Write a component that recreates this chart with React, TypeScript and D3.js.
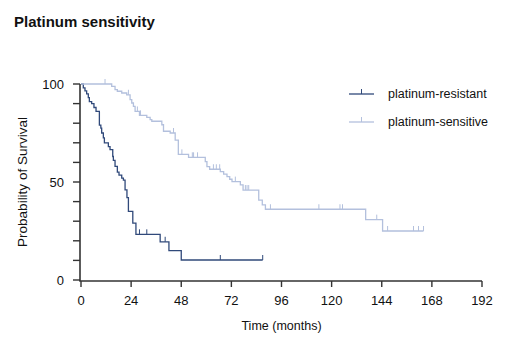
import React from 'react';
import * as d3 from 'd3';

// Kaplan-Meier steps (months, % surviving after each drop)
const resistantTimes = [1.1, 1.9, 2.7, 3.5, 4.0, 5.1, 6.2, 7.2, 8.8, 9.5, 9.9, 10.7, 11.2, 13.1, 13.9, 15.2, 15.5, 16.3, 17.4, 18.2, 19.5, 20.3, 21.1, 22.0, 22.7, 24.8, 26.3, 37.9, 42.1, 48];
const resistantSurv = [98, 96.5, 95, 93, 91, 90, 88, 86, 79, 77.5, 75, 72.5, 70, 68, 66.5, 63, 61, 58, 55, 53.5, 52, 51, 46, 42, 35, 29, 23.3, 19.5, 15, 10.2];
const resistantCensor = [28, 31.5, 40.3, 66.7, 87];
const resistantEnd = 87;

const sensitiveTimes = [14.7, 16.3, 17.4, 19.5, 21.9, 23.5, 24.3, 25.1, 25.9, 28, 31.5, 33.1, 33.9, 38.7, 39.5, 42.7, 45.1, 46.6, 51.5, 59.5, 60.3, 61.6, 66.7, 68.3, 69.9, 71.2, 72.3, 76.3, 77.6, 85.1, 86.8, 88.3, 136.3, 144.4];
const sensitiveSurv = [98.8, 97.1, 96.3, 95.4, 94.5, 92, 90.3, 88.6, 86, 84, 83, 81.8, 81, 79.2, 75.9, 75, 71.4, 64.1, 62.6, 60.4, 57.8, 56.5, 55.3, 54, 52.7, 51.4, 50.2, 48.5, 45.9, 40.8, 38.3, 36.1, 30.8, 25];
const sensitiveCensor = [11.5, 22.7, 27, 28.5, 44.3, 48.3, 53.3, 53.9, 55.8, 63.4, 64.8, 66.4, 73.9, 78.7, 79.5, 80.3, 90.7, 113.9, 124, 125.2, 141.6, 146.8, 159.2, 161.6, 164];
const sensitiveEnd = 164;

const xTicks = [0, 24, 48, 72, 96, 120, 144, 168, 192];
const yTicks = [0, 10, 20, 30, 40, 50, 60, 70, 80, 90, 100];
const yLabels = [0, 50, 100];

const groups = [
  { name: 'platinum-resistant', times: resistantTimes, surv: resistantSurv, censor: resistantCensor, end: resistantEnd, color: '#30497a' },
  { name: 'platinum-sensitive', times: sensitiveTimes, surv: sensitiveSurv, censor: sensitiveCensor, end: sensitiveEnd, color: '#b3c0dd' },
];

const W = 519;
const H = 340;
const font = 'Liberation Sans, Arial, sans-serif';

const App = () => {
  const x = d3.scaleLinear().domain([0, 192]).range([81, 482]);
  const y = d3.scaleLinear().domain([0, 100]).range([280, 84]);
  const axisColor = '#333';

  const line = d3.line<[number, number]>()
    .x(d => x(d[0]))
    .y(d => y(d[1]))
    .curve(d3.curveStepAfter);

  // survival level at a censor time
  const levelAt = (times: number[], surv: number[], t: number) => {
    let s = 100;
    times.forEach((tt, i) => { if (tt <= t) s = surv[i]; });
    return s;
  };

  return (
    <svg width={W} height={H} style={{ position: 'absolute', left: 0, top: 0 }} fontFamily={font}>
      <text x={14} y={27} fontSize={15} fontWeight="bold" fill="#111">Platinum sensitivity</text>

      {/* curves */}
      {groups.map(g => {
        const pts: [number, number][] = [[0, 100]];
        g.times.forEach((t, i) => pts.push([t, g.surv[i]]));
        pts.push([g.end, g.surv[g.surv.length - 1]]);
        return (
          <g key={g.name}>
            <path d={line(pts) || ''} fill="none" stroke={g.color} strokeWidth={1.3} />
            {g.censor.map((t, i) => {
              const cy = y(levelAt(g.times, g.surv, t));
              return <line key={i} x1={x(t)} x2={x(t)} y1={cy} y2={cy - 5} stroke={g.color} strokeWidth={1} />;
            })}
          </g>
        );
      })}

      {/* y axis */}
      <line x1={x(0) - 1} x2={x(0) - 1} y1={y(0) + 1} y2={y(100)} stroke={axisColor} strokeWidth={1.6} />
      {yTicks.map(t => (
        <line key={t} x1={x(0) - 8} x2={x(0) - 1} y1={y(t)} y2={y(t)} stroke={axisColor} strokeWidth={1.4} />
      ))}
      {yLabels.map(t => (
        <text key={t} x={x(0) - 17} y={y(t)} dy="0.35em" textAnchor="end" fontSize={13} fill="#111">{t}</text>
      ))}

      {/* x axis */}
      <line x1={x(0) - 1.8} x2={x(192)} y1={y(0) + 1} y2={y(0) + 1} stroke={axisColor} strokeWidth={1.6} />
      {xTicks.map(t => (
        <g key={t}>
          <line x1={x(t)} x2={x(t)} y1={y(0) + 1} y2={y(0) + 7} stroke={axisColor} strokeWidth={1.4} />
          <text x={x(t)} y={y(0) + 25} textAnchor="middle" fontSize={13} fill="#111">{t}</text>
        </g>
      ))}

      <text x={x(96)} y={330} textAnchor="middle" fontSize={12.5} fill="#111">Time (months)</text>
      <text transform={`translate(27, ${y(50)}) rotate(-90)`} textAnchor="middle" fontSize={13.5} fill="#111">Probability of Survival</text>

      {/* legend */}
      {groups.map((g, i) => {
        const ly = 94 + i * 28;
        return (
          <g key={g.name}>
            <line x1={349} x2={374} y1={ly} y2={ly} stroke={g.color} strokeWidth={1.3} />
            <line x1={361.5} x2={361.5} y1={ly} y2={ly - 5} stroke={g.color} strokeWidth={1} />
            <text x={388} y={ly} dy="0.35em" fontSize={12.5} fill="#111">{g.name}</text>
          </g>
        );
      })}
    </svg>
  );
};

export default App;
